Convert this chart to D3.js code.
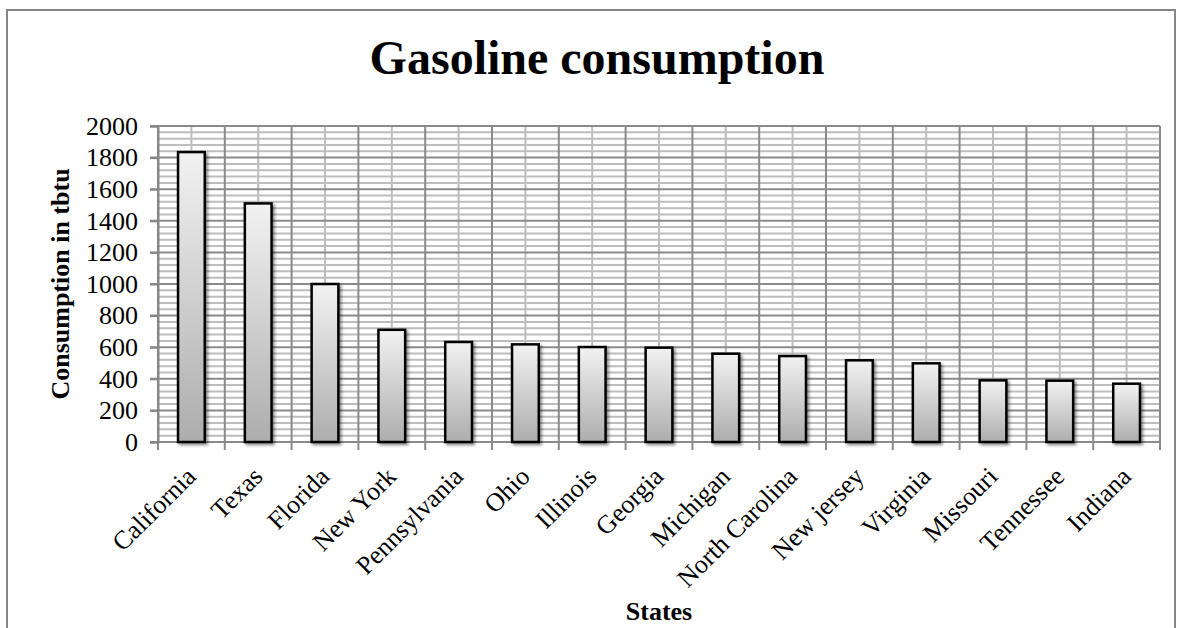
<!DOCTYPE html>
<html>
<head>
<meta charset="utf-8">
<script src="https://cdn.jsdelivr.net/npm/d3@7"></script>
<style>
  html, body { margin: 0; padding: 0; background: #fff; }
  svg { display: block; font-family: "Liberation Serif", "Times New Roman", serif; }
</style>
</head>
<body>
<svg id="chart" width="1182" height="628"></svg>
<script>
// Gasoline consumption by state (trillion Btu)
const states = ["California", "Texas", "Florida", "New York", "Pennsylvania", "Ohio",
  "Illinois", "Georgia", "Michigan", "North Carolina", "New jersey", "Virginia",
  "Missouri", "Tennessee", "Indiana"];
const consumption = [1835, 1510, 1000, 710, 633, 618, 601, 597, 559, 544, 517, 498, 390, 388, 369];
const yTicks = [0, 200, 400, 600, 800, 1000, 1200, 1400, 1600, 1800, 2000];
const yMinorStep = 40;

const svg = d3.select("#chart");
const plot = { left: 158, right: 1160, top: 126, bottom: 442 };

const x = d3.scaleBand().domain(states).range([plot.left, plot.right])
  .paddingInner(0.6).paddingOuter(0.3);
const y = d3.scaleLinear().domain([0, 2000]).range([plot.bottom, plot.top]);
const step = x.step();

// outer chart frame
svg.append("rect").attr("x", 7).attr("y", 10).attr("width", 1168).attr("height", 640)
  .attr("fill", "#fff").attr("stroke", "#868686").attr("stroke-width", 2);

const defs = svg.append("defs");
const grad = defs.append("linearGradient").attr("id", "barFill")
  .attr("x1", 0).attr("y1", 0).attr("x2", 0).attr("y2", 1);
grad.append("stop").attr("offset", "0%").attr("stop-color", "#f2f2f2");
grad.append("stop").attr("offset", "100%").attr("stop-color", "#adadad");
const shadow = defs.append("filter").attr("id", "shadow")
  .attr("x", "-30%").attr("y", "-10%").attr("width", "160%").attr("height", "130%");
shadow.append("feDropShadow").attr("dx", 2).attr("dy", 2).attr("stdDeviation", 1.5)
  .attr("flood-color", "#000").attr("flood-opacity", 0.45);

// minor horizontal grid
const minorVals = d3.range(0, 2001, yMinorStep).filter(v => v % 200 !== 0);
svg.append("g").selectAll("line").data(minorVals).join("line")
  .attr("x1", plot.left).attr("x2", plot.right)
  .attr("y1", d => y(d)).attr("y2", d => y(d))
  .attr("stroke", "#bdbdbd").attr("stroke-width", 2);

// minor vertical grid at category centers
svg.append("g").selectAll("line").data(states).join("line")
  .attr("x1", d => x(d) + x.bandwidth() / 2).attr("x2", d => x(d) + x.bandwidth() / 2)
  .attr("y1", plot.top).attr("y2", plot.bottom)
  .attr("stroke", "#bdbdbd").attr("stroke-width", 2);

// major vertical grid at category boundaries
const bounds = d3.range(states.length + 1).map(i => plot.left + i * step);
svg.append("g").selectAll("line").data(bounds).join("line")
  .attr("x1", d => d).attr("x2", d => d)
  .attr("y1", plot.top).attr("y2", plot.bottom + 8)
  .attr("stroke", "#8a8a8a").attr("stroke-width", 2);

// major horizontal grid
svg.append("g").selectAll("line").data(yTicks).join("line")
  .attr("x1", plot.left - 8).attr("x2", plot.right)
  .attr("y1", d => y(d)).attr("y2", d => y(d))
  .attr("stroke", "#8a8a8a").attr("stroke-width", 2);

// y axis
const yAxis = svg.append("g").attr("transform", `translate(${plot.left},0)`)
  .call(d3.axisLeft(y).tickValues(yTicks).tickSize(8).tickPadding(12).tickFormat(d3.format("d")));
yAxis.select(".domain").attr("stroke", "#868686").attr("stroke-width", 2);
yAxis.selectAll(".tick line").attr("stroke", "#868686").attr("stroke-width", 2);
yAxis.selectAll("text").attr("font-size", 26).attr("fill", "#000")
  .attr("font-family", "Liberation Serif");

// bars
svg.append("g").selectAll("rect").data(states).join("rect")
  .attr("x", d => x(d)).attr("width", x.bandwidth())
  .attr("y", (d, i) => y(consumption[i]))
  .attr("height", (d, i) => y(0) - y(consumption[i]))
  .attr("fill", "url(#barFill)").attr("stroke", "#000").attr("stroke-width", 2.5)
  .attr("filter", "url(#shadow)");

// category labels
svg.append("g").selectAll("text").data(states).join("text")
  .attr("transform", d => `translate(${x(d) + x.bandwidth() / 2 + 6},${plot.bottom + 36}) rotate(-45)`)
  .attr("text-anchor", "end")
  .attr("font-size", 26).attr("fill", "#000")
  .text(d => d);

// titles
svg.append("text").attr("x", 597).attr("y", 74).attr("text-anchor", "middle")
  .attr("font-size", 48).attr("font-weight", "bold").text("Gasoline consumption");
svg.append("text").attr("transform", `translate(69,${(plot.top + plot.bottom) / 2}) rotate(-90)`)
  .attr("text-anchor", "middle").attr("font-size", 26).attr("font-weight", "bold")
  .text("Consumption in tbtu");
svg.append("text").attr("x", (plot.left + plot.right) / 2).attr("y", 620)
  .attr("text-anchor", "middle").attr("font-size", 26).attr("font-weight", "bold")
  .text("States");
</script>
</body>
</html>
